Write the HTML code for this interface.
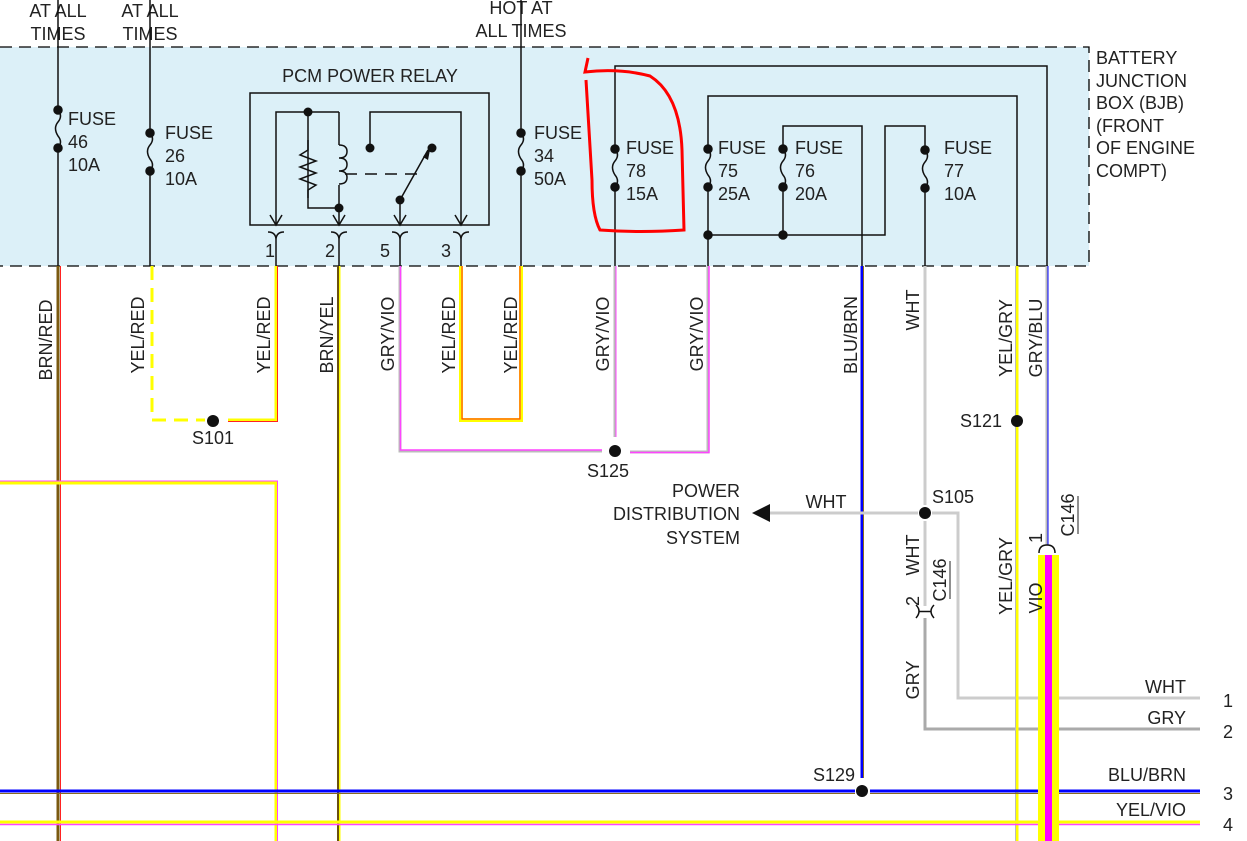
<!DOCTYPE html>
<html><head><meta charset="utf-8"><style>
html,body{margin:0;padding:0;background:#fff;}
svg{display:block;}
text{font-family:"Liberation Sans",sans-serif;font-size:18px;fill:#222;}
</style></head><body>
<svg width="1247" height="841" viewBox="0 0 1247 841" xmlns="http://www.w3.org/2000/svg">
<rect x="0" y="47" width="1089" height="219" fill="#dcf0f8"/>
<path d="M0 47 H1089 V266 H0" fill="none" stroke="#000" stroke-width="1.3" stroke-dasharray="12,7"/>

<text x="58" y="17" text-anchor="middle">AT ALL</text>
<text x="58" y="40" text-anchor="middle">TIMES</text>
<text x="150" y="17" text-anchor="middle">AT ALL</text>
<text x="150" y="40" text-anchor="middle">TIMES</text>
<text x="521" y="14" text-anchor="middle">HOT AT</text>
<text x="521" y="37" text-anchor="middle">ALL TIMES</text>
<g>
<text x="1096" y="64">BATTERY</text>
<text x="1096" y="87">JUNCTION</text>
<text x="1096" y="109">BOX (BJB)</text>
<text x="1096" y="132">(FRONT</text>
<text x="1096" y="154">OF ENGINE</text>
<text x="1096" y="177">COMPT)</text>
</g>

<g stroke="#111" stroke-width="1.5" fill="none">
<line x1="58" y1="0" x2="58" y2="266"/>
<line x1="150" y1="0" x2="150" y2="266"/>
<line x1="521" y1="0" x2="521" y2="266"/>
<path d="M615 266 V66 H1047 V266"/>
<path d="M708 266 V96 H1017 V266"/>
<path d="M862 266 V126 H783 V235"/>
<path d="M708 235 H885 V126 H925 V266"/>
<rect x="250" y="93" width="239" height="132" stroke-width="1.5"/>
<path d="M276 225 V112 H339"/>
<path d="M308 112 V208 H339 V225"/>
<path d="M339 112 V145"/>
<path d="M339 185 V208"/>
<path d="M370 146 V112 H461 V225"/>
<path d="M400 225 V200 L428 150"/>
<path d="M308 140 V150 L300 155 L316 161 L300 167 L316 173 L300 179 L316 185 L308 190 V198"/>
<path d="M339 145 q8 0 8 6.5 q0 6.5 -8 6.5 q8 0 8 6.5 q0 6.5 -8 6.5 q8 0 8 6.5 q0 6.5 -8 6.5"/>
<line x1="345" y1="174" x2="420" y2="174" stroke-dasharray="12,8"/>
<path d="M270 215 L276 225 L282 215 M333 215 L339 225 L345 215 M394 215 L400 225 L406 215 M455 215 L461 225 L467 215"/>
<path d="M268 232 q8 0 8 8 q0 -8 8 -8 M331 232 q8 0 8 8 q0 -8 8 -8 M392 232 q8 0 8 8 q0 -8 8 -8 M453 232 q8 0 8 8 q0 -8 8 -8"/>
<line x1="276" y1="240" x2="276" y2="266"/><line x1="339" y1="240" x2="339" y2="266"/>
<line x1="400" y1="240" x2="400" y2="266"/><line x1="461" y1="240" x2="461" y2="266"/>
</g>
<path d="M423 157 L431 145 L428 160 Z" fill="#111"/>
<g fill="#111">
<circle cx="308" cy="112" r="4.5"/><circle cx="339" cy="208" r="4.5"/>
<circle cx="370" cy="148" r="4.5"/><circle cx="432" cy="148" r="4.5"/>
<circle cx="400" cy="200" r="4.5"/>
</g>
<text x="370" y="82" text-anchor="middle">PCM POWER RELAY</text>
<text x="270" y="257" text-anchor="middle">1</text>
<text x="330" y="257" text-anchor="middle">2</text>
<text x="385" y="257" text-anchor="middle">5</text>
<text x="446" y="257" text-anchor="middle">3</text>

<g fill="#111" stroke="#111" stroke-width="1.5">
<rect x="54" y="110" width="8" height="38" fill="#dcf0f8" stroke="none"/>
<path d="M58 110 q5 6 0 12 q-5 6 0 14 q5 6 0 12" fill="none"/>
<circle cx="58" cy="110" r="4"/><circle cx="58" cy="148" r="4"/>
<rect x="146" y="133" width="8" height="38" fill="#dcf0f8" stroke="none"/>
<path d="M150 133 q5 6 0 12 q-5 6 0 14 q5 6 0 12" fill="none"/>
<circle cx="150" cy="133" r="4"/><circle cx="150" cy="171" r="4"/>
<rect x="517" y="133" width="8" height="38" fill="#dcf0f8" stroke="none"/>
<path d="M521 133 q5 6 0 12 q-5 6 0 14 q5 6 0 12" fill="none"/>
<circle cx="521" cy="133" r="4"/><circle cx="521" cy="171" r="4"/>
<rect x="611" y="149" width="8" height="38" fill="#dcf0f8" stroke="none"/>
<path d="M615 149 q5 6 0 12 q-5 6 0 14 q5 6 0 12" fill="none"/>
<circle cx="615" cy="149" r="4"/><circle cx="615" cy="187" r="4"/>
<rect x="704" y="149" width="8" height="38" fill="#dcf0f8" stroke="none"/>
<path d="M708 149 q5 6 0 12 q-5 6 0 14 q5 6 0 12" fill="none"/>
<circle cx="708" cy="149" r="4"/><circle cx="708" cy="187" r="4"/>
<rect x="779" y="149" width="8" height="38" fill="#dcf0f8" stroke="none"/>
<path d="M783 149 q5 6 0 12 q-5 6 0 14 q5 6 0 12" fill="none"/>
<circle cx="783" cy="149" r="4"/><circle cx="783" cy="187" r="4"/>
<rect x="921" y="150" width="8" height="38" fill="#dcf0f8" stroke="none"/>
<path d="M925 150 q5 6 0 12 q-5 6 0 14 q5 6 0 12" fill="none"/>
<circle cx="925" cy="150" r="4"/><circle cx="925" cy="188" r="4"/>
<circle cx="708" cy="235" r="4"/><circle cx="783" cy="235" r="4"/>
</g>
<g>
<text x="68" y="125">FUSE</text><text x="68" y="148">46</text><text x="68" y="171">10A</text>
<text x="165" y="139">FUSE</text><text x="165" y="162">26</text><text x="165" y="185">10A</text>
<text x="534" y="139">FUSE</text><text x="534" y="162">34</text><text x="534" y="185">50A</text>
<text x="626" y="154">FUSE</text><text x="626" y="177">78</text><text x="626" y="200">15A</text>
<text x="718" y="154">FUSE</text><text x="718" y="177">75</text><text x="718" y="200">25A</text>
<text x="795" y="154">FUSE</text><text x="795" y="177">76</text><text x="795" y="200">20A</text>
<text x="944" y="154">FUSE</text><text x="944" y="177">77</text><text x="944" y="200">10A</text>
</g>

<path d="M588 58 L585 72 Q620 68 650 76 Q680 95 682 150 L684 230 Q640 233 600 230 Q592 215 592 180 L586 80" fill="none" stroke="#f00" stroke-width="3"/>

<g fill="none">
<line x1="58" y1="266" x2="58" y2="841" stroke="#7a5a10" stroke-width="3"/>
<line x1="60.5" y1="266" x2="60.5" y2="841" stroke="#f22" stroke-width="1"/>
<path d="M152 266 V420 H205" stroke="#ff0" stroke-width="3" stroke-dasharray="14,8"/>
<path d="M276 266 V420 H228" stroke="#ff0" stroke-width="3"/>
<path d="M277.5 266 V421.5 H228" stroke="#f22" stroke-width="1"/>
<path d="M0 483 H276 V841" stroke="#ff0" stroke-width="3"/>
<path d="M0 481 H277.5 V841" stroke="#f4f" stroke-width="1"/>
<line x1="339" y1="266" x2="339" y2="841" stroke="#ff0" stroke-width="3"/>
<line x1="338" y1="266" x2="338" y2="841" stroke="#6a5010" stroke-width="2"/>
<path d="M400 266 V451 H602" stroke="#bbb" stroke-width="3"/>
<path d="M400.5 266 V450 H602" stroke="#f4f" stroke-width="1.5"/>
<path d="M461 266 V420 H521 V266" stroke="#ff0" stroke-width="4"/>
<path d="M462 266 V419 H520 V266" stroke="#f22" stroke-width="1"/>
<path d="M615 266 V437" stroke="#bbb" stroke-width="3"/>
<path d="M616 266 V437" stroke="#f4f" stroke-width="1"/>
<path d="M708 266 V452 H630" stroke="#bbb" stroke-width="3"/>
<path d="M709 266 V452.5 H630" stroke="#f4f" stroke-width="1.5"/>
<path d="M862 266 V778" stroke="#00f" stroke-width="3"/>
<path d="M863.5 266 V778" stroke="#8a6a20" stroke-width="1"/>
<path d="M925 266 V505" stroke="#ccc" stroke-width="3"/>
<path d="M925 521 V606" stroke="#ccc" stroke-width="3"/>
<path d="M918 513 H770" stroke="#ccc" stroke-width="3"/>
<path d="M932 513 H958 V698 H1200" stroke="#ccc" stroke-width="3"/>
<path d="M925 618 V729 H1200" stroke="#aaa" stroke-width="3"/>
<path d="M1017 266 V841" stroke="#ff0" stroke-width="3"/>
<path d="M1015.5 266 V841" stroke="#bbb" stroke-width="1"/>
<path d="M1047 266 V545" stroke="#bbb" stroke-width="3"/>
<path d="M1048 266 V545" stroke="#00f" stroke-width="1"/>
<path d="M0 791 H855 M870 791 H1200" stroke="#00f" stroke-width="3"/>
<path d="M0 793.5 H855 M870 793.5 H1200" stroke="#8a6a20" stroke-width="1"/>
<path d="M0 822 H1200" stroke="#ff0" stroke-width="3"/>
<path d="M0 824.5 H1200" stroke="#f4f" stroke-width="1.5"/>
<rect x="1038" y="555" width="21" height="286" fill="#ff0"/>
<rect x="1045" y="555" width="7" height="286" fill="#f0f"/>
<path d="M1039 553 q0 -8 8 -8 q8 0 8 8" stroke="#111" stroke-width="1.5"/>
<path d="M916 605 q6 6 0 13 M934 605 q-6 6 0 13 M919 611.5 H931" stroke="#111" stroke-width="1.5"/>
</g>
<path d="M752 513 L770 504 L770 522 Z" fill="#111"/>
<g fill="#111">
<circle cx="213" cy="421" r="6"/>
<circle cx="615" cy="451" r="6"/>
<circle cx="925" cy="513" r="6"/>
<circle cx="1017" cy="421" r="6"/>
<circle cx="862" cy="791" r="6"/>
</g>
<text x="213" y="444" text-anchor="middle">S101</text>
<text x="608" y="477" text-anchor="middle">S125</text>
<text x="932" y="503">S105</text>
<text x="1002" y="427" text-anchor="end">S121</text>
<text x="855" y="781" text-anchor="end">S129</text>
<text x="826" y="508" text-anchor="middle">WHT</text>
<text x="740" y="497" text-anchor="end">POWER</text>
<text x="740" y="520" text-anchor="end">DISTRIBUTION</text>
<text x="740" y="544" text-anchor="end">SYSTEM</text>
<text x="1186" y="693" text-anchor="end">WHT</text>
<text x="1186" y="724" text-anchor="end">GRY</text>
<text x="1186" y="781" text-anchor="end">BLU/BRN</text>
<text x="1186" y="816" text-anchor="end">YEL/VIO</text>
<text x="1228" y="707" text-anchor="middle">1</text>
<text x="1228" y="738" text-anchor="middle">2</text>
<text x="1228" y="800" text-anchor="middle">3</text>
<text x="1228" y="831" text-anchor="middle">4</text>

<g>
<text transform="translate(52,340) rotate(-90)" text-anchor="middle">BRN/RED</text>
<text transform="translate(144,335) rotate(-90)" text-anchor="middle">YEL/RED</text>
<text transform="translate(270,335) rotate(-90)" text-anchor="middle">YEL/RED</text>
<text transform="translate(333,335) rotate(-90)" text-anchor="middle">BRN/YEL</text>
<text transform="translate(394,334) rotate(-90)" text-anchor="middle">GRY/VIO</text>
<text transform="translate(455,335) rotate(-90)" text-anchor="middle">YEL/RED</text>
<text transform="translate(517,335) rotate(-90)" text-anchor="middle">YEL/RED</text>
<text transform="translate(609,334) rotate(-90)" text-anchor="middle">GRY/VIO</text>
<text transform="translate(703,334) rotate(-90)" text-anchor="middle">GRY/VIO</text>
<text transform="translate(857,335) rotate(-90)" text-anchor="middle">BLU/BRN</text>
<text transform="translate(919,310) rotate(-90)" text-anchor="middle">WHT</text>
<text transform="translate(1012,338) rotate(-90)" text-anchor="middle">YEL/GRY</text>
<text transform="translate(1042,338) rotate(-90)" text-anchor="middle">GRY/BLU</text>
<text transform="translate(919,555) rotate(-90)" text-anchor="middle">WHT</text>
<text transform="translate(946,580) rotate(-90)" text-anchor="middle">C146</text>
<text transform="translate(919,601) rotate(-90)" text-anchor="middle">2</text>
<text transform="translate(919,680) rotate(-90)" text-anchor="middle">GRY</text>
<text transform="translate(1012,576) rotate(-90)" text-anchor="middle">YEL/GRY</text>
<text transform="translate(1042,598) rotate(-90)" text-anchor="middle">VIO</text>
<text transform="translate(1042,538) rotate(-90)" text-anchor="middle">1</text>
<text transform="translate(1074,515) rotate(-90)" text-anchor="middle">C146</text>
</g>
<line x1="950" y1="561" x2="950" y2="599" stroke="#222" stroke-width="1"/>
<line x1="1078" y1="496" x2="1078" y2="534" stroke="#222" stroke-width="1"/>
</svg>
</body></html>
